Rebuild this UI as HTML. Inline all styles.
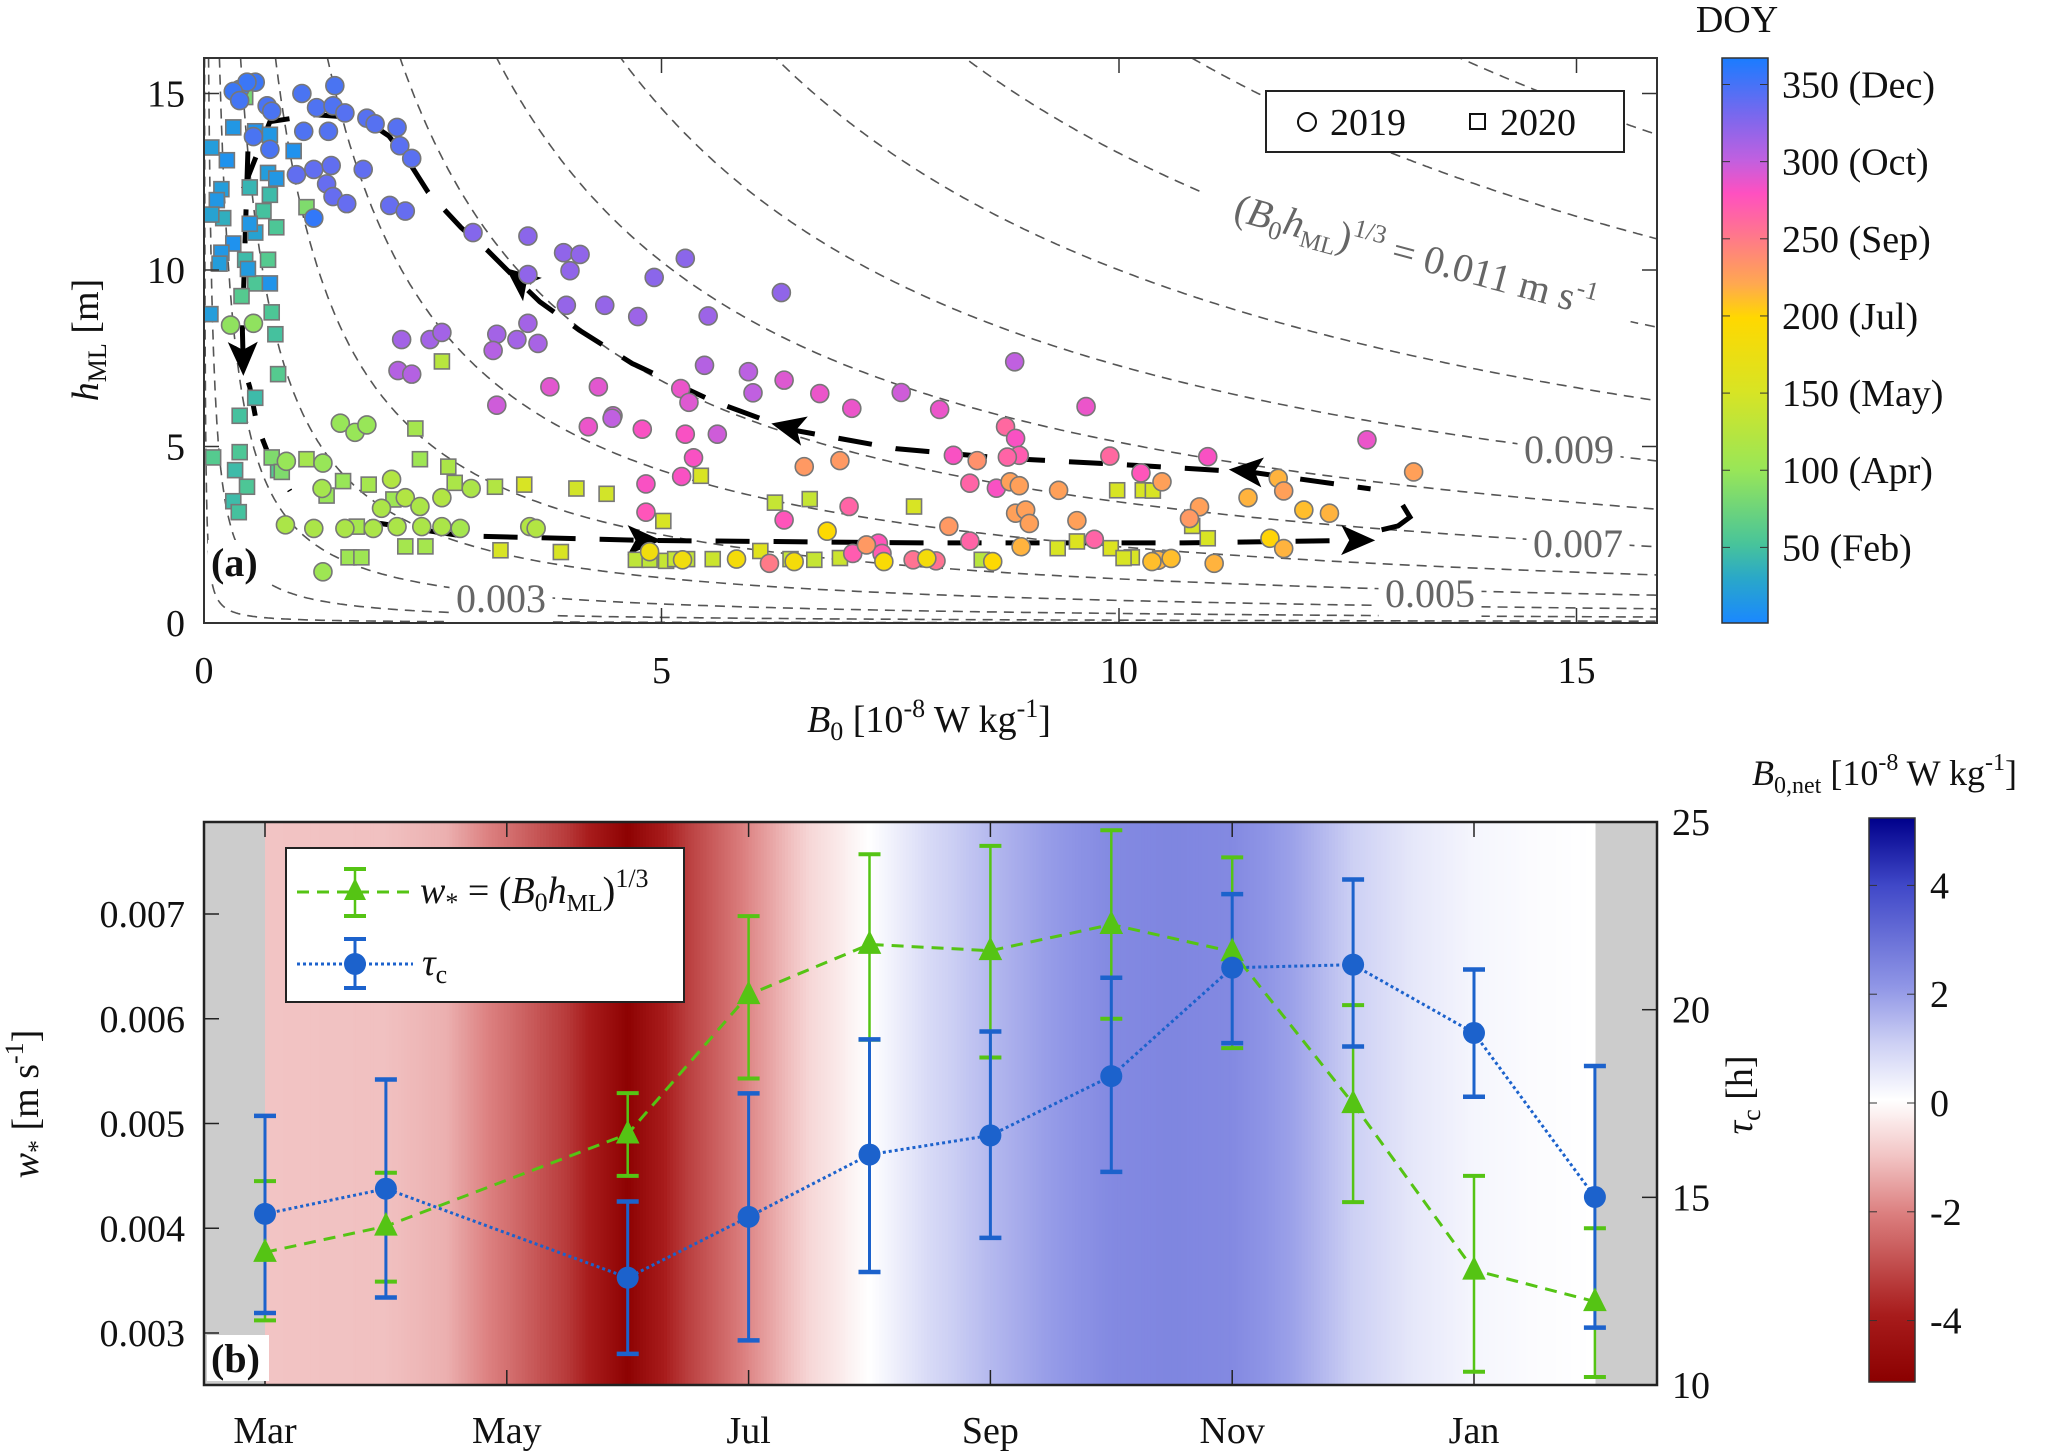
<!DOCTYPE html>
<html><head><meta charset="utf-8"><style>
html,body{margin:0;padding:0;background:#fff;}
svg{display:block;font-family:"Liberation Serif",serif;}
</style></head><body>
<svg id="fig" width="2067" height="1454" viewBox="0 0 2067 1454" xmlns="http://www.w3.org/2000/svg">
<defs>
<clipPath id="clipA"><rect x="204" y="58" width="1453" height="565"/></clipPath>
<clipPath id="clipB"><rect x="204" y="822" width="1453" height="563"/></clipPath>
<linearGradient id="doyGrad" x1="0" y1="1" x2="0" y2="0">
<stop offset="0" stop-color="#1a88ff"/><stop offset="0.08" stop-color="#2aa8c8"/><stop offset="0.14" stop-color="#48c49a"/>
<stop offset="0.27" stop-color="#98e658"/><stop offset="0.41" stop-color="#d8e424"/><stop offset="0.54" stop-color="#ffd800"/>
<stop offset="0.6" stop-color="#ffa850"/><stop offset="0.68" stop-color="#ff7a88"/><stop offset="0.76" stop-color="#ff50c0"/>
<stop offset="0.82" stop-color="#c060e0"/><stop offset="0.9" stop-color="#7868ee"/><stop offset="1" stop-color="#1a7cff"/>
</linearGradient>
<linearGradient id="bnetGrad" x1="0" y1="1" x2="0" y2="0">
<stop offset="0" stop-color="#8b0000"/><stop offset="0.12" stop-color="#a81c1c"/><stop offset="0.3" stop-color="#dc8080"/>
<stop offset="0.4" stop-color="#f2c4c4"/><stop offset="0.5" stop-color="#ffffff"/><stop offset="0.6" stop-color="#cdd0f4"/>
<stop offset="0.7" stop-color="#9096e6"/><stop offset="0.88" stop-color="#4048c8"/><stop offset="1" stop-color="#00008b"/>
</linearGradient>
</defs>
<g id="panelA"></g>
<g id="panelB"></g>
</svg>
<script>
// ---------- Panel (a) data ----------
const circB0 = [0.39,0.56,0.47,0.32,0.39,0.69,0.74,0.54,0.72,1.07,1.43,1.23,1.41,1.54,1.78,1.87,2.11,2.14,2.27,1.09,1.36,1.01,1.2,1.39,1.74,1.34,1.41,1.56,2.03,2.2,1.2,
2.94,3.54,3.93,4.11,4.0,3.54,3.96,4.38,3.54,3.2,3.42,3.65,3.16,2.16,2.47,2.6,2.12,2.27,
3.2,3.78,4.31,4.47,4.2,
0.29,0.54,1.49,1.65,1.78,0.9,1.3,1.29,0.89,1.2,1.54,1.85,2.11,2.38,2.6,2.8,3.56,3.63,1.3,2.05,2.2,2.36,1.94,2.6,2.92,
5.26,4.92,6.31,4.74,5.51,5.47,5.95,6.0,5.21,5.3,6.34,6.73,7.08,7.62,8.04,8.86,9.64,4.46,4.79,5.26,5.61,5.35,5.22,4.83,4.83,6.34,8.76,8.87,8.91,8.78,8.19,9.9,10.24,8.37,8.66,7.05,8.37,9.73,6.18,7.09,7.37,7.41,7.75,8.0,
6.56,6.95,8.45,8.81,8.91,9.34,8.87,8.98,9.02,8.14,9.54,8.93,7.24,10.43,
6.81,4.87,5.82,5.23,6.45,7.43,7.9,8.62,
10.97,12.71,13.22,10.47,11.74,11.8,11.41,10.88,10.77,12.02,12.3,11.65,11.8,11.04,10.36,10.57];
const circH = [15.12,15.32,15.32,15.06,14.8,14.65,14.5,13.78,13.42,15.0,15.22,14.6,14.65,14.45,14.3,14.14,14.04,13.52,13.16,13.93,13.93,12.7,12.85,12.96,12.85,12.44,12.08,11.88,11.83,11.67,11.47,
11.06,10.96,10.49,10.44,9.98,9.87,9.0,9.0,8.49,8.18,8.03,7.92,7.72,8.03,8.03,8.23,7.15,7.05,
6.17,6.69,6.69,5.87,5.56,
8.44,8.49,5.66,5.4,5.61,4.58,4.53,3.81,2.78,2.68,2.68,2.68,2.73,2.73,2.73,2.68,2.73,2.68,1.45,4.07,3.55,3.3,3.25,3.55,3.81,
10.33,9.79,9.36,8.68,8.7,7.3,7.12,6.52,6.64,6.25,6.88,6.5,6.08,6.53,6.05,7.4,6.13,5.8,5.49,5.35,5.35,4.68,4.15,3.94,3.14,2.92,5.56,5.23,4.75,4.7,4.75,4.73,4.25,3.96,3.82,3.3,2.32,2.37,1.69,1.97,2.26,1.97,1.79,1.76,
4.43,4.6,4.6,4.0,3.89,3.76,3.11,3.2,2.82,2.74,2.9,2.16,2.21,1.78,
2.6,2.02,1.81,1.79,1.74,1.74,1.83,1.74,
4.71,5.19,4.28,4.0,4.1,3.74,3.55,3.29,2.96,3.2,3.11,2.4,2.11,1.69,1.74,1.83];
const circDoy = [355,355,355,355,352,350,350,350,350,350,350,348,348,345,345,345,345,343,343,348,346,340,340,340,340,338,338,338,338,338,358,
325,322,320,320,320,320,318,318,312,312,312,310,305,312,312,312,305,305,
295,288,288,295,285,
95,95,100,100,100,100,100,110,115,115,115,115,115,115,115,110,120,120,105,120,120,115,115,120,115,
322,322,320,315,315,305,302,300,285,290,290,285,285,295,285,300,285,300,280,280,295,280,280,280,275,275,262,280,270,265,280,262,275,265,280,265,265,265,250,270,275,270,255,255,
230,230,235,225,225,225,225,225,225,230,225,215,230,215,
195,180,185,180,185,190,185,195,
280,285,225,225,215,225,215,225,230,210,215,200,215,215,210,210];
const sqB0 = [0.45,1.12,0.5,0.72,0.65,0.21,0.79,0.56,0.7,0.45,0.56,0.41,0.74,0.78,0.81,0.56,0.39,0.1,0.39,0.34,0.47,0.32,0.38,0.81,0.74,0.85,
0.32,0.56,0.72,0.98,0.25,0.08,0.7,0.79,0.19,0.14,0.08,0.5,0.32,0.19,0.17,0.48,0.72,0.07,
2.6,2.31,2.36,2.67,2.74,3.18,1.52,1.8,1.34,2.07,1.67,2.2,2.42,1.58,1.72,1.12,
3.5,4.07,4.4,3.24,3.9,
5.43,5.02,6.24,6.62,7.76,6.08,4.72,4.87,5.05,5.15,5.28,5.56,6.41,6.67,6.95,8.5,9.33,9.54,9.91,10.14,10.05,9.98,10.26,
10.37,10.8,10.97,10.45];
const sqH = [14.9,11.78,12.34,12.13,11.67,11.47,11.21,11.06,10.29,10.29,9.62,9.26,8.8,8.18,7.05,6.38,5.87,4.69,4.84,4.33,3.86,3.45,3.14,4.33,4.69,4.28,
14.04,13.93,13.83,13.37,13.11,13.47,12.75,12.59,12.29,11.98,11.57,11.31,10.75,10.49,10.18,10.03,9.62,8.75,
7.41,5.51,4.64,4.43,3.97,3.86,4.02,3.92,3.61,3.5,2.73,2.17,2.17,1.86,1.86,4.64,
3.92,3.81,3.66,2.06,2.01,
4.17,2.89,3.41,3.51,3.3,2.04,1.79,1.79,1.76,1.81,1.81,1.81,1.81,1.79,1.84,1.79,2.12,2.31,2.12,1.86,1.84,3.76,3.76,
3.75,2.75,2.4,1.83];
const sqDoy = [80,85,40,45,50,35,55,25,60,45,55,60,55,50,60,45,50,60,55,45,55,45,50,60,85,85,
15,10,15,10,10,20,20,15,20,15,25,15,10,15,20,18,12,20,
125,110,105,115,115,120,100,110,100,105,110,110,110,105,105,110,
150,145,145,150,150,
150,150,135,135,150,160,130,130,135,135,135,140,135,135,140,125,150,155,155,150,150,150,150,
150,150,150,150];
const contourLevels = [0.001,0.002,0.003,0.004,0.005,0.006,0.007,0.008,0.009,0.010,0.011,0.012,0.013];
const xTicksA = [0,5,10,15];
const yTicksA = [0,5,10,15];
const doyTicks = [50,100,150,200,250,300,350];
const doyTickLabels = ["50 (Feb)","100 (Apr)","150 (May)","200 (Jul)","250 (Sep)","300 (Oct)","350 (Dec)"];
// cycle path (data coords)
const pathB0 = [0.43,0.72,1.22,1.73,2.02,2.23,2.45,2.81,3.1,3.39,3.67,4.1,4.68,5.55,6.41,7.56,8.72,10.16,11.45,12.75];
const pathH  = [12.3,14.2,14.4,14.3,13.8,13.1,12.2,11.2,10.55,9.8,9.1,8.3,7.35,6.3,5.48,4.94,4.67,4.47,4.27,3.8];
const downB0 = [0.48,0.45,0.42,0.43,0.5,0.58,0.72,0.94];
const downH  = [13.36,10.95,8.28,7.28,6.68,5.6,4.67,3.74];
const bottomB0 = [1.8,2.81,4.83,7.85,10.7,12.6];
const bottomH  = [2.87,2.47,2.34,2.27,2.27,2.34];
const hookB0 = [13.1,13.18,13.05,12.87];
const hookH  = [3.34,3.0,2.75,2.64];

// ---------- Panel (b) data ----------
const months = ["Mar","May","Jul","Sep","Nov","Jan"];
const monthTickIdx = [0,2,4,6,8,10];
const obsIdx = [0,1,3,4,5,6,7,8,9,10,11];
const wstar    = [0.00377,0.00402,0.0049,0.00623,0.00671,0.00665,0.0069,0.00664,0.00519,0.0036,0.0033];
const wstarHi  = [0.00445,0.00453,0.00529,0.00698,0.00757,0.00765,0.0078,0.00754,0.00613,0.0045,0.0040];
const wstarLo  = [0.00312,0.00349,0.0045,0.00543,0.0058,0.00563,0.0060,0.00572,0.00425,0.00263,0.00258];
const tauc     = [14.56,15.23,12.86,14.48,16.14,16.65,18.23,21.12,21.2,19.38,15.01];
const taucHi   = [17.17,18.14,14.89,17.77,19.21,19.42,20.85,23.08,23.47,21.07,18.5];
const taucLo   = [11.92,12.33,10.83,11.19,13.01,13.92,15.68,19.11,19.02,17.68,11.53];
const bnetIdx  = [0,1,1.5,2,2.5,3,3.5,4,4.5,5,5.5,6,6.5,7,7.5,8,8.5,9,9.5,10,10.5,11];
const bnetVal  = [-1.0,-1.05,-1.3,-2.3,-3.4,-5.1,-3.3,-1.9,-0.7,0.0,0.8,1.4,1.9,2.3,2.4,2.3,1.8,1.0,0.5,0.2,0.08,0.0];
const yTicksL = [0.003,0.004,0.005,0.006,0.007];
const yTicksR = [10,15,20,25];
const bnetTicks = [-4,-2,0,2,4];

const NS="http://www.w3.org/2000/svg";
function mk(tag,attrs,parent,name,inter){const e=document.createElementNS(NS,tag);for(const k in attrs)e.setAttribute(k,attrs[k]);
 
 
 parent.appendChild(e);return e;}
function txt(x,y,s,size,parent,name,anchor,extra){const t=mk('text',Object.assign({x:x,y:y,'font-size':size,'text-anchor':anchor||'start',fill:'#111'},extra||{}),parent,name,false);t.textContent=s;return t;}

// axes functions
const xA=v=>204+v*91.5, yA=v=>623-v*35.3;
const xB=m=>265+m*120.9, yL=v=>914-(v-0.007)*104750, yR=t=>1385-(t-10)*37.53;

function lerpHex(a,b,t){const pa=[1,3,5].map(i=>parseInt(a.substr(i,2),16)),pb=[1,3,5].map(i=>parseInt(b.substr(i,2),16));
 return 'rgb('+pa.map((v,i)=>Math.round(v+(pb[i]-v)*t)).join(',')+')';}
function cmap(stops,v){if(v<=stops[0][0])return stops[0][1];for(let i=1;i<stops.length;i++){if(v<=stops[i][0]){const t=(v-stops[i-1][0])/(stops[i][0]-stops[i-1][0]);return lerpHex(stops[i-1][1],stops[i][1],t);}}return stops[stops.length-1][1];}
const doyStops=[[1,'#1a88ff'],[30,'#2aa8c8'],[52,'#48c49a'],[100,'#98e658'],[150,'#d8e424'],[198,'#ffd800'],[220,'#ffa850'],[250,'#ff7a88'],[278,'#ff50c0'],[300,'#c060e0'],[330,'#7868ee'],[350,'#4a74f2'],[366,'#1a7cff']];
const bnStops=[[-5.2,'#8b0000'],[-4,'#a81c1c'],[-2,'#dc8080'],[-1,'#f2c4c4'],[0,'#ffffff'],[1,'#cdd0f4'],[2,'#9096e6'],[3.5,'#5058d0'],[5.2,'#00008b']];

// ================= PANEL A =================
const A=document.getElementById('panelA');
mk('rect',{x:204,y:58,width:1453,height:565,fill:'#fff'},A,'plot-area-a',false);
const gC=mk('g',{'clip-path':'url(#clipA)'},A,'contour-lines',false);
contourLevels.forEach(c=>{const k=Math.pow(c,3)*1e8;let d='';const b0s=Math.max(k/16.5,0.005);
 for(let i=0;i<=300;i++){const b=b0s*Math.pow(16/b0s,i/300);const h=k/b;d+=(i?'L':'M')+xA(b).toFixed(1)+','+yA(h).toFixed(1);}
 mk('path',{d:d,fill:'none',stroke:'#555','stroke-width':1.6,'stroke-dasharray':'10 7'},gC,'contour-'+c,false);});
// contour labels
function clabel(x,y,s,name,rot){const g=mk('g',{transform:'translate('+x+','+y+') rotate('+(rot||0)+')'},A,name,false);
 const w=s.length*19;mk('rect',{x:-w/2-4,y:-30,width:w+8,height:40,fill:'#fff'},g,name+'-bg',false);
 txt(0,0,s,40,g,name+'-text','middle',{fill:'#666'});}
clabel(501,612,'0.003','label-0.003');clabel(1430,607,'0.005','label-0.005');clabel(1578,557,'0.007','label-0.007');clabel(1569,463,'0.009','label-0.009');
{const g=mk('g',{transform:'translate(1412,268) rotate(15)'},A,'label-0.011',false);
 mk('rect',{x:-225,y:-36,width:450,height:50,fill:'#fff'},g,'label-0.011-bg',false);
 const t=mk('text',{x:0,y:0,'font-size':40,fill:'#666','text-anchor':'middle'},g,'label-0.011-text',false);
 t.innerHTML='(<tspan font-style="italic">B</tspan><tspan font-size="26" dy="8">0</tspan><tspan font-style="italic" dy="-8">h</tspan><tspan font-size="24" dy="8">ML</tspan><tspan dy="-8">)</tspan><tspan font-size="26" dy="-16">1/3</tspan><tspan dy="16"> = 0.011 m s</tspan><tspan font-size="26" dy="-16">-1</tspan>';}
// cycle dashed path
const gP=mk('g',{'clip-path':'url(#clipA)'},A,'seasonal-cycle-arrows',false);
function pl(bs,hs,name){let d='';bs.forEach((b,i)=>{d+=(i?'L':'M')+xA(b).toFixed(1)+','+yA(hs[i]).toFixed(1);});
 mk('path',{d:d,fill:'none',stroke:'#000','stroke-width':5,'stroke-dasharray':'34 24'},gP,name,false);}
pl(pathB0,pathH,'cycle-upper-path');pl(downB0,downH,'cycle-descent-path');pl(bottomB0,bottomH,'cycle-bottom-path');
{let d='';hookB0.forEach((b,i)=>{d+=(i?'L':'M')+xA(b)+','+yA(hookH[i]);});mk('path',{d:d,fill:'none',stroke:'#000','stroke-width':5},gP,'cycle-hook',false);}
function arrow(tb,th,fb,fh,name){const tx=xA(tb),ty=yA(th),fx=xA(fb),fy=yA(fh);const a=Math.atan2(ty-fy,tx-fx)*180/Math.PI;
 mk('path',{d:'M0,0 L-34,-15 L-26,0 L-34,15 Z',fill:'#000',transform:'translate('+tx+','+ty+') rotate('+a+')'},gP,name,false);}
arrow(3.3,10.05,3.9,8.8,'arrow-up-left');arrow(6.2,5.65,7.3,5.0,'arrow-left-1');arrow(11.2,4.35,12.3,4.1,'arrow-left-2');
arrow(0.43,7.0,0.42,8.6,'arrow-down');arrow(5.0,2.34,4.0,2.36,'arrow-right-1');arrow(12.8,2.34,11.8,2.36,'arrow-right-2');
// points
const gS=mk('g',{'clip-path':'url(#clipA)'},A,'scatter-points',false);
sqB0.forEach((b,i)=>{mk('rect',{x:xA(b)-7.5,y:yA(sqH[i])-7.5,width:15,height:15,fill:cmap(doyStops,sqDoy[i]),stroke:'#777','stroke-width':1.6},gS,'point-2020',false);});
circB0.forEach((b,i)=>{mk('circle',{cx:xA(b),cy:yA(circH[i]),r:9,fill:cmap(doyStops,circDoy[i]),stroke:'#777','stroke-width':1.6},gS,'point-2019',false);});
// axes frame & ticks
mk('rect',{x:204,y:58,width:1453,height:565,fill:'none',stroke:'#333','stroke-width':2},A,'axes-frame-a',false);
xTicksA.forEach(v=>{mk('line',{x1:xA(v),x2:xA(v),y1:623,y2:608,stroke:'#333','stroke-width':1.5},A,'x-tick-a',false);
 mk('line',{x1:xA(v),x2:xA(v),y1:58,y2:73,stroke:'#333','stroke-width':1.5},A,'x-tick-a-top',false);
 txt(xA(v),683,String(v),38,A,'x-tick-label-a','middle');});
yTicksA.forEach(v=>{mk('line',{x1:204,x2:219,y1:yA(v),y2:yA(v),stroke:'#333','stroke-width':1.5},A,'y-tick-a',false);
 mk('line',{x1:1642,x2:1657,y1:yA(v),y2:yA(v),stroke:'#333','stroke-width':1.5},A,'y-tick-a-right',false);
 txt(185,yA(v)+13,String(v),38,A,'y-tick-label-a','end');});
{const t=mk('text',{x:929,y:732,'font-size':38,'text-anchor':'middle',fill:'#111'},A,'x-axis-title-a',false);
 t.innerHTML='<tspan font-style="italic">B</tspan><tspan font-size="26" dy="8">0</tspan><tspan dy="-8">  [10</tspan><tspan font-size="26" dy="-15">-8</tspan><tspan dy="15"> W kg</tspan><tspan font-size="26" dy="-15">-1</tspan><tspan dy="15">]</tspan>';}
{const t=mk('text',{x:0,y:0,'font-size':38,'text-anchor':'middle',fill:'#111',transform:'translate(98,340) rotate(-90)'},A,'y-axis-title-a',false);
 t.innerHTML='<tspan font-style="italic">h</tspan><tspan font-size="26" dy="8">ML</tspan><tspan dy="-8"> [m]</tspan>';}
{const g=mk('g',{},A,'panel-a-label',false);mk('rect',{x:208,y:540,width:60,height:44,fill:'#fff'},g,'panel-a-label-bg',false);
 txt(211,576,'(a)',40,g,'panel-a-label-text','start',{'font-weight':'bold'});}
// legend a
{const g=mk('g',{},A,'legend-a',false);mk('rect',{x:1266,y:91,width:358,height:61,fill:'#fff',stroke:'#222','stroke-width':2},g,'legend-a-box',false);
 mk('circle',{cx:1307,cy:122,r:9,fill:'none',stroke:'#111','stroke-width':2},g,'legend-2019-marker',false);txt(1330,135,'2019',38,g,'legend-2019-label');
 mk('rect',{x:1470,y:114,width:15,height:15,fill:'none',stroke:'#111','stroke-width':2},g,'legend-2020-marker',false);txt(1500,135,'2020',38,g,'legend-2020-label');}
// colorbar a
{const g=mk('g',{},A,'colorbar-doy',false);mk('rect',{x:1722,y:58,width:46,height:565,fill:'url(#doyGrad)',stroke:'#333','stroke-width':1.5},g,'colorbar-doy-bar',false);
 doyTicks.forEach((d,i)=>{const y=623-(d-1)*1.543;mk('line',{x1:1722,x2:1730,y1:y,y2:y,stroke:'#333'},g,'colorbar-doy-tick',false);mk('line',{x1:1760,x2:1768,y1:y,y2:y,stroke:'#333'},g,'colorbar-doy-tick',false);
  txt(1782,y+13,doyTickLabels[i],38,g,'colorbar-doy-label');});
 txt(1737,32,'DOY',38,g,'colorbar-doy-title','middle');}

// ================= PANEL B =================
const B=document.getElementById('panelB');
const gBg=mk('g',{'clip-path':'url(#clipB)'},B,'bnet-background',false);
mk('rect',{x:204,y:822,width:1453,height:563,fill:'#cccccc'},gBg,'gray-no-data',false);
function bnAt(m){for(let i=1;i<bnetIdx.length;i++){if(m<=bnetIdx[i]){const t=(m-bnetIdx[i-1])/(bnetIdx[i]-bnetIdx[i-1]);return bnetVal[i-1]+(bnetVal[i]-bnetVal[i-1])*t;}}return bnetVal[bnetVal.length-1];}
for(let m=0;m<11;m+=0.025){mk('rect',{x:xB(m),y:822,width:120.9*0.025+0.6,height:563,fill:cmap(bnStops,bnAt(m+0.0125))},gBg,'bnet-strip',false);}
// month grid ticks
monthTickIdx.forEach((mi,i)=>{mk('line',{x1:xB(mi),x2:xB(mi),y1:1385,y2:1370,stroke:'#222','stroke-width':1.5},B,'x-tick-b',false);
 mk('line',{x1:xB(mi),x2:xB(mi),y1:822,y2:837,stroke:'#222','stroke-width':1.5},B,'x-tick-b-top',false);
 txt(xB(mi),1443,months[i],38,B,'month-label','middle');});
// series lines
function line(vals,yf,name,attrs){let d='';vals.forEach((v,i)=>{d+=(i?'L':'M')+xB(obsIdx[i]).toFixed(1)+','+yf(v).toFixed(1);});mk('path',Object.assign({d:d,fill:'none'},attrs),B,name,false);}
const G='#55c414',BL='#1c62cc';
// error bars
function ebars(lo,hi,yf,col,w,name){lo.forEach((l,i)=>{const x=xB(obsIdx[i]);const g=mk('g',{},B,name,false);
 mk('line',{x1:x,x2:x,y1:yf(l),y2:yf(hi[i]),stroke:col,'stroke-width':w},g,name+'-stem',false);
 mk('line',{x1:x-11,x2:x+11,y1:yf(l),y2:yf(l),stroke:col,'stroke-width':w+1.5},g,name+'-cap-low',false);
 mk('line',{x1:x-11,x2:x+11,y1:yf(hi[i]),y2:yf(hi[i]),stroke:col,'stroke-width':w+1.5},g,name+'-cap-high',false);});}
ebars(wstarLo,wstarHi,yL,G,2.5,'wstar-errorbar');
line(wstar,yL,'wstar-line',{stroke:G,'stroke-width':3,'stroke-dasharray':'12 8'});
ebars(taucLo,taucHi,yR,BL,3,'tauc-errorbar');
line(tauc,yR,'tauc-line',{stroke:BL,'stroke-width':3,'stroke-dasharray':'3 3'});
wstar.forEach((v,i)=>{const x=xB(obsIdx[i]),y=yL(v);mk('path',{d:'M'+x+','+(y-13)+' L'+(x+11)+','+(y+9)+' L'+(x-11)+','+(y+9)+' Z',fill:G,stroke:G,'stroke-width':1},B,'wstar-marker',false);});
tauc.forEach((v,i)=>{mk('circle',{cx:xB(obsIdx[i]),cy:yR(v),r:11,fill:BL},B,'tauc-marker',false);});
// frame & y ticks
mk('rect',{x:204,y:822,width:1453,height:563,fill:'none',stroke:'#222','stroke-width':2.5},B,'axes-frame-b',false);
yTicksL.forEach(v=>{mk('line',{x1:204,x2:219,y1:yL(v),y2:yL(v),stroke:'#222','stroke-width':1.5},B,'y-tick-left',false);txt(185,yL(v)+13,v.toFixed(3),38,B,'y-tick-label-left','end');});
yTicksR.forEach(v=>{mk('line',{x1:1642,x2:1657,y1:yR(v),y2:yR(v),stroke:'#222','stroke-width':1.5},B,'y-tick-right',false);txt(1672,yR(v)+13,String(v),38,B,'y-tick-label-right','start');});
{const t=mk('text',{x:0,y:0,'font-size':38,'text-anchor':'middle',fill:'#111',transform:'translate(38,1104) rotate(-90)'},B,'y-axis-title-left',false);
 t.innerHTML='<tspan font-style="italic">w</tspan><tspan font-size="26" dy="8">*</tspan><tspan dy="-8"> [m s</tspan><tspan font-size="26" dy="-15">-1</tspan><tspan dy="15">]</tspan>';}
{const t=mk('text',{x:0,y:0,'font-size':38,'text-anchor':'middle',fill:'#111',transform:'translate(1752,1095) rotate(-90)'},B,'y-axis-title-right',false);
 t.innerHTML='<tspan font-style="italic">τ</tspan><tspan font-size="26" dy="8">c</tspan><tspan dy="-8"> [h]</tspan>';}
{const g=mk('g',{},B,'panel-b-label',false);mk('rect',{x:207,y:1335,width:62,height:46,fill:'#fff'},g,'panel-b-label-bg',false);
 txt(211,1372,'(b)',40,g,'panel-b-label-text','start',{'font-weight':'bold'});}
// legend b
{const g=mk('g',{},B,'legend-b',false);mk('rect',{x:286,y:848,width:398,height:154,fill:'#fff',stroke:'#222','stroke-width':2},g,'legend-b-box',false);
 mk('line',{x1:297,x2:413,y1:892,y2:892,stroke:G,'stroke-width':3,'stroke-dasharray':'12 8'},g,'legend-wstar-line',false);
 mk('line',{x1:355,x2:355,y1:869,y2:916,stroke:G,'stroke-width':2.5},g,'legend-wstar-bar',false);
 mk('line',{x1:344,x2:366,y1:869,y2:869,stroke:G,'stroke-width':4},g,'legend-wstar-cap',false);mk('line',{x1:344,x2:366,y1:916,y2:916,stroke:G,'stroke-width':4},g,'legend-wstar-cap',false);
 mk('path',{d:'M355,878 L366,900 L344,900 Z',fill:G},g,'legend-wstar-marker',false);
 const t1=mk('text',{x:420,y:903,'font-size':38,fill:'#111'},g,'legend-wstar-label',false);
 t1.innerHTML='<tspan font-style="italic">w</tspan><tspan font-size="26" dy="8">*</tspan><tspan dy="-8"> = (</tspan><tspan font-style="italic">B</tspan><tspan font-size="26" dy="8">0</tspan><tspan font-style="italic" dy="-8">h</tspan><tspan font-size="24" dy="8">ML</tspan><tspan dy="-8">)</tspan><tspan font-size="26" dy="-16">1/3</tspan>';
 mk('line',{x1:297,x2:413,y1:964,y2:964,stroke:BL,'stroke-width':3,'stroke-dasharray':'3 3'},g,'legend-tauc-line',false);
 mk('line',{x1:355,x2:355,y1:939,y2:988,stroke:BL,'stroke-width':3},g,'legend-tauc-bar',false);
 mk('line',{x1:344,x2:366,y1:939,y2:939,stroke:BL,'stroke-width':4},g,'legend-tauc-cap',false);mk('line',{x1:344,x2:366,y1:988,y2:988,stroke:BL,'stroke-width':4},g,'legend-tauc-cap',false);
 mk('circle',{cx:355,cy:964,r:11,fill:BL},g,'legend-tauc-marker',false);
 const t2=mk('text',{x:422,y:975,'font-size':38,fill:'#111'},g,'legend-tauc-label',false);
 t2.innerHTML='<tspan font-style="italic">τ</tspan><tspan font-size="26" dy="8">c</tspan>';}
// colorbar b
{const g=mk('g',{},B,'colorbar-bnet',false);mk('rect',{x:1869,y:818,width:46,height:564,fill:'url(#bnetGrad)',stroke:'#333','stroke-width':1.5},g,'colorbar-bnet-bar',false);
 bnetTicks.forEach(v=>{const y=1103-v*54.4;mk('line',{x1:1869,x2:1877,y1:y,y2:y,stroke:'#333'},g,'colorbar-bnet-tick',false);mk('line',{x1:1907,x2:1915,y1:y,y2:y,stroke:'#333'},g,'colorbar-bnet-tick',false);
  txt(1930,y+13,String(v),38,g,'colorbar-bnet-label');});
 const t=mk('text',{x:1752,y:785,'font-size':36,fill:'#111'},g,'colorbar-bnet-title',false);
 t.innerHTML='<tspan font-style="italic">B</tspan><tspan font-size="24" dy="8">0,net</tspan><tspan dy="-8">  [10</tspan><tspan font-size="24" dy="-15">-8</tspan><tspan dy="15">  W kg</tspan><tspan font-size="24" dy="-15">-1</tspan><tspan dy="15">]</tspan>';}
</script>
</body></html>
